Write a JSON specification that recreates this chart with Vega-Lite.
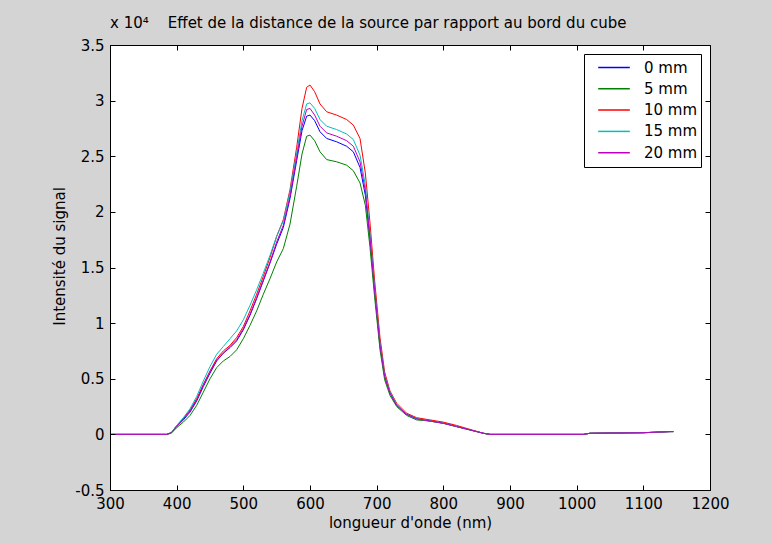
{
  "$schema": "https://vega.github.io/schema/vega-lite/v6.json",
  "autosize": {"type": "none"},
  "padding": {"left": 110, "top": 45, "right": 61, "bottom": 54},
  "width": 600,
  "height": 445,
  "background": "#d4d4d4",
  "title": {
    "text": "x 10⁴\u00a0\u00a0\u00a0\u00a0Effet de la distance de la source par rapport au bord du cube",
    "font": "DejaVu Sans",
    "fontSize": 15,
    "fontWeight": "normal",
    "color": "#000000",
    "offset": 7,
    "anchor": "start",
    "frame": "group"
  },
  "config": {
    "view": {"stroke": "#000000", "strokeWidth": 1, "fill": "#ffffff"},
    "axis": {
      "labelFont": "DejaVu Sans",
      "labelFontSize": 15,
      "labelColor": "#000000",
      "titleFont": "DejaVu Sans",
      "titleFontSize": 15,
      "titleFontWeight": "normal",
      "titleColor": "#000000",
      "domainColor": "#000000",
      "ticks": false,
      "tickSize": 0
    }
  },
  "data": {
    "values": [
      {"w": 300, "0 mm": 0, "5 mm": 0, "10 mm": 0, "15 mm": 0, "20 mm": 0},
      {"w": 385, "0 mm": 0, "5 mm": 0, "10 mm": 0, "15 mm": 0, "20 mm": 0},
      {"w": 392, "0 mm": 150, "5 mm": 100, "10 mm": 150, "15 mm": 150, "20 mm": 150},
      {"w": 400, "0 mm": 700, "5 mm": 600, "10 mm": 800, "15 mm": 800, "20 mm": 700},
      {"w": 410, "0 mm": 1300, "5 mm": 1100, "10 mm": 1400, "15 mm": 1500, "20 mm": 1400},
      {"w": 420, "0 mm": 2000, "5 mm": 1700, "10 mm": 2200, "15 mm": 2300, "20 mm": 2100},
      {"w": 430, "0 mm": 3000, "5 mm": 2600, "10 mm": 3200, "15 mm": 3400, "20 mm": 3100},
      {"w": 440, "0 mm": 4300, "5 mm": 3800, "10 mm": 4500, "15 mm": 4800, "20 mm": 4400},
      {"w": 450, "0 mm": 5500, "5 mm": 5000, "10 mm": 5700, "15 mm": 6100, "20 mm": 5600},
      {"w": 460, "0 mm": 6600, "5 mm": 6000, "10 mm": 6800, "15 mm": 7200, "20 mm": 6700},
      {"w": 470, "0 mm": 7300, "5 mm": 6600, "10 mm": 7500, "15 mm": 7900, "20 mm": 7300},
      {"w": 480, "0 mm": 7800, "5 mm": 7000, "10 mm": 8000, "15 mm": 8600, "20 mm": 7900},
      {"w": 490, "0 mm": 8400, "5 mm": 7600, "10 mm": 8700, "15 mm": 9300, "20 mm": 8500},
      {"w": 500, "0 mm": 9400, "5 mm": 8600, "10 mm": 9700, "15 mm": 10300, "20 mm": 9500},
      {"w": 510, "0 mm": 10700, "5 mm": 9800, "10 mm": 11100, "15 mm": 11600, "20 mm": 10800},
      {"w": 520, "0 mm": 12200, "5 mm": 11100, "10 mm": 12600, "15 mm": 13000, "20 mm": 12300},
      {"w": 530, "0 mm": 13800, "5 mm": 12600, "10 mm": 14200, "15 mm": 14500, "20 mm": 13900},
      {"w": 540, "0 mm": 15400, "5 mm": 14000, "10 mm": 15900, "15 mm": 16100, "20 mm": 15500},
      {"w": 550, "0 mm": 17100, "5 mm": 15500, "10 mm": 17800, "15 mm": 17800, "20 mm": 17300},
      {"w": 560, "0 mm": 18600, "5 mm": 16700, "10 mm": 19300, "15 mm": 19200, "20 mm": 18800},
      {"w": 570, "0 mm": 21200, "5 mm": 18900, "10 mm": 22000, "15 mm": 21800, "20 mm": 21400},
      {"w": 580, "0 mm": 24600, "5 mm": 22300, "10 mm": 25800, "15 mm": 25300, "20 mm": 24900},
      {"w": 588, "0 mm": 27300, "5 mm": 25200, "10 mm": 29300, "15 mm": 28200, "20 mm": 27700},
      {"w": 595, "0 mm": 28600, "5 mm": 26800, "10 mm": 31200, "15 mm": 29700, "20 mm": 29200},
      {"w": 600, "0 mm": 28700, "5 mm": 26900, "10 mm": 31400, "15 mm": 29800, "20 mm": 29300},
      {"w": 607, "0 mm": 28200, "5 mm": 26400, "10 mm": 30800, "15 mm": 29300, "20 mm": 28700},
      {"w": 615, "0 mm": 27200, "5 mm": 25400, "10 mm": 29700, "15 mm": 28300, "20 mm": 27700},
      {"w": 625, "0 mm": 26600, "5 mm": 24700, "10 mm": 29000, "15 mm": 27700, "20 mm": 27100},
      {"w": 640, "0 mm": 26300, "5 mm": 24500, "10 mm": 28700, "15 mm": 27400, "20 mm": 26800},
      {"w": 655, "0 mm": 25900, "5 mm": 24200, "10 mm": 28300, "15 mm": 27000, "20 mm": 26400},
      {"w": 665, "0 mm": 25400, "5 mm": 23700, "10 mm": 27800, "15 mm": 26500, "20 mm": 25900},
      {"w": 675, "0 mm": 24000, "5 mm": 22600, "10 mm": 26600, "15 mm": 25100, "20 mm": 24500},
      {"w": 683, "0 mm": 21500, "5 mm": 20600, "10 mm": 23500, "15 mm": 22400, "20 mm": 21900},
      {"w": 690, "0 mm": 17500, "5 mm": 16800, "10 mm": 19000, "15 mm": 18000, "20 mm": 17700},
      {"w": 697, "0 mm": 12800, "5 mm": 12300, "10 mm": 13800, "15 mm": 13100, "20 mm": 12900},
      {"w": 705, "0 mm": 8000, "5 mm": 7600, "10 mm": 8700, "15 mm": 8200, "20 mm": 8000},
      {"w": 712, "0 mm": 5200, "5 mm": 4900, "10 mm": 5600, "15 mm": 5300, "20 mm": 5200},
      {"w": 720, "0 mm": 3700, "5 mm": 3500, "10 mm": 3900, "15 mm": 3800, "20 mm": 3700},
      {"w": 730, "0 mm": 2600, "5 mm": 2500, "10 mm": 2800, "15 mm": 2700, "20 mm": 2600},
      {"w": 745, "0 mm": 1800, "5 mm": 1700, "10 mm": 1900, "15 mm": 1800, "20 mm": 1800},
      {"w": 760, "0 mm": 1400, "5 mm": 1300, "10 mm": 1500, "15 mm": 1400, "20 mm": 1400},
      {"w": 780, "0 mm": 1200, "5 mm": 1200, "10 mm": 1300, "15 mm": 1200, "20 mm": 1200},
      {"w": 800, "0 mm": 1000, "5 mm": 1000, "10 mm": 1100, "15 mm": 1000, "20 mm": 1000},
      {"w": 820, "0 mm": 700, "5 mm": 700, "10 mm": 800, "15 mm": 700, "20 mm": 700},
      {"w": 840, "0 mm": 400, "5 mm": 400, "10 mm": 450, "15 mm": 400, "20 mm": 400},
      {"w": 860, "0 mm": 100, "5 mm": 100, "10 mm": 100, "15 mm": 100, "20 mm": 100},
      {"w": 870, "0 mm": 0, "5 mm": 0, "10 mm": 0, "15 mm": 0, "20 mm": 0},
      {"w": 1010, "0 mm": 0, "5 mm": 0, "10 mm": 0, "15 mm": 0, "20 mm": 0},
      {"w": 1020, "0 mm": 100, "5 mm": 100, "10 mm": 100, "15 mm": 100, "20 mm": 100},
      {"w": 1100, "0 mm": 150, "5 mm": 150, "10 mm": 150, "15 mm": 150, "20 mm": 150},
      {"w": 1140, "0 mm": 250, "5 mm": 250, "10 mm": 250, "15 mm": 250, "20 mm": 250},
      {"w": 1145, "0 mm": 250, "5 mm": 250, "10 mm": 250, "15 mm": 250, "20 mm": 250}
    ]
  },
  "transform": [
    {"fold": ["0 mm", "5 mm", "10 mm", "15 mm", "20 mm"], "as": ["distance", "intensite"]}
  ],
  "mark": {"type": "line", "strokeWidth": 1, "clip": true},
  "encoding": {
    "x": {
      "field": "w", "type": "quantitative",
      "scale": {"domain": [300, 1200], "nice": false, "zero": false},
      "axis": {"orient": "bottom", "zindex": 1, "values": [300, 400, 500, 600, 700, 800, 900, 1000, 1100, 1200], "format": "d", "title": "longueur d'onde (nm)", "labelPadding": 6, "titlePadding": 4, "labelFlush": false, "grid": true, "gridColor": "#000000", "gridOpacity": 1, "gridWidth": 1, "gridDash": [5, 435]}
    },
    "y": {
      "field": "intensite", "type": "quantitative",
      "scale": {"domain": [-5000, 35000], "nice": false, "zero": false},
      "axis": {"orient": "left", "zindex": 1, "values": [-5000, 0, 5000, 10000, 15000, 20000, 25000, 30000, 35000], "labelExpr": "datum.value / 10000", "title": "Intensité du signal", "labelPadding": 6, "titleX": -43, "titleY": 211, "labelFlush": false, "grid": true, "gridColor": "#000000", "gridOpacity": 1, "gridWidth": 1, "gridDash": [5, 590]}
    },
    "color": {
      "field": "distance", "type": "nominal",
      "scale": {"domain": ["0 mm", "5 mm", "10 mm", "15 mm", "20 mm"], "range": ["#0000ff", "#008000", "#ff0000", "#00bfbf", "#bf00bf"]},
      "legend": {
        "title": null,
        "orient": "top-right",
        "offset": 9,
        "fillColor": "#ffffff",
        "strokeColor": "#000000",
        "padding": 3,
        "symbolType": "stroke",
        "symbolSize": 1000,
        "symbolStrokeWidth": 1.5,
        "symbolOffset": 10,
        "clipHeight": 21,
        "rowPadding": 0.3,
        "labelFont": "DejaVu Sans",
        "labelFontSize": 15,
        "labelColor": "#000000",
        "labelOffset": 13,
        "zindex": 2
      }
    }
  }
}
